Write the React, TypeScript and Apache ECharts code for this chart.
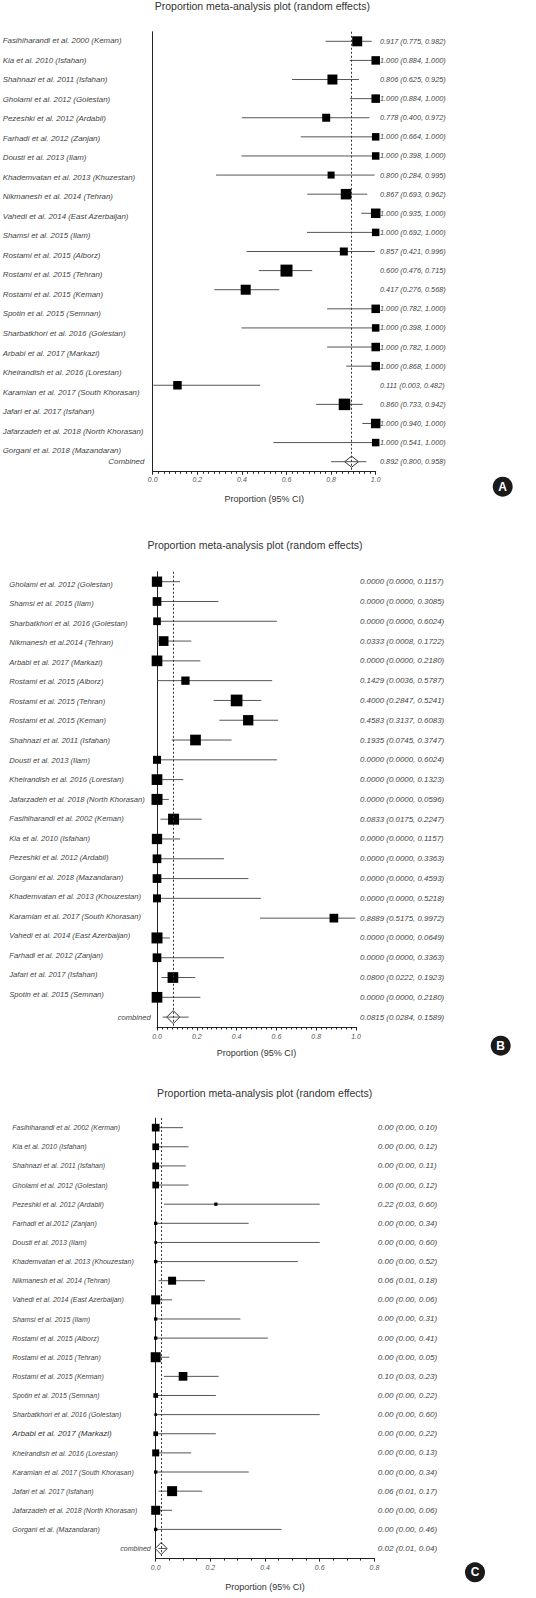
import React, { useEffect, useRef } from "react";
import * as echarts from "echarts";

// ---------------- Panel A data ----------------
const namesA = [
  "Fasihiharandi et al. 2000 (Keman)",
  "Kia et al. 2010 (Isfahan)",
  "Shahnazi et al. 2011 (Isfahan)",
  "Gholami et al. 2012 (Golestan)",
  "Pezeshki et al. 2012 (Ardabil)",
  "Farhadi et al. 2012 (Zanjan)",
  "Dousti et al. 2013 (Ilam)",
  "Khademvatan et al. 2013 (Khuzestan)",
  "Nikmanesh et al. 2014 (Tehran)",
  "Vahedi et al. 2014 (East Azerbaijan)",
  "Shamsi et al. 2015 (Ilam)",
  "Rostami et al. 2015 (Alborz)",
  "Rostami et al. 2015 (Tehran)",
  "Rostami et al. 2015 (Keman)",
  "Spotin et al. 2015 (Semnan)",
  "Sharbatkhori et al. 2016 (Golestan)",
  "Arbabi et al. 2017 (Markazi)",
  "Kheirandish et al. 2016 (Lorestan)",
  "Karamian et al. 2017 (South Khorasan)",
  "Jafari et al. 2017 (Isfahan)",
  "Jafarzadeh et al. 2018 (North Khorasan)",
  "Gorgani et al. 2018 (Mazandaran)",
];
const estA = [0.917, 1.0, 0.806, 1.0, 0.778, 1.0, 1.0, 0.8, 0.867, 1.0, 1.0, 0.857, 0.6, 0.417, 1.0, 1.0, 1.0, 1.0, 0.111, 0.86, 1.0, 1.0];
const lowA = [0.775, 0.884, 0.625, 0.884, 0.4, 0.664, 0.398, 0.284, 0.693, 0.935, 0.692, 0.421, 0.476, 0.276, 0.782, 0.398, 0.782, 0.868, 0.003, 0.733, 0.94, 0.541];
const highA = [0.982, 1.0, 0.925, 1.0, 0.972, 1.0, 1.0, 0.995, 0.962, 1.0, 1.0, 0.996, 0.715, 0.568, 1.0, 1.0, 1.0, 1.0, 0.482, 0.942, 1.0, 1.0];
const weightA = [10, 8.5, 10, 8.5, 8, 7.5, 7.5, 7, 10.5, 9.5, 7.5, 8, 12, 10, 8.5, 7.5, 8.5, 8.5, 8.5, 11.5, 9.5, 7.5];
const pooledA = [0.892, 0.8, 0.958];

// ---------------- Panel B data ----------------
const namesB = [
  "Gholami et al. 2012 (Golestan)",
  "Shamsi et al. 2015 (Ilam)",
  "Sharbatkhori et al. 2016 (Golestan)",
  "Nikmanesh et al.2014 (Tehran)",
  "Arbabi et al. 2017 (Markazi)",
  "Rostami et al. 2015 (Alborz)",
  "Rostami et al. 2015 (Tehran)",
  "Rostami et al. 2015 (Keman)",
  "Shahnazi et al. 2011 (Isfahan)",
  "Dousti et al. 2013 (Ilam)",
  "Kheirandish et al. 2016 (Lorestan)",
  "Jafarzadeh et al. 2018 (North Khorasan)",
  "Fasihiharandi et al. 2002 (Keman)",
  "Kia et al. 2010 (Isfahan)",
  "Pezeshki et al. 2012 (Ardabil)",
  "Gorgani et al. 2018 (Mazandaran)",
  "Khademvatan et al. 2013 (Khouzestan)",
  "Karamian et al. 2017 (South Khorasan)",
  "Vahedi et al. 2014 (East Azerbaijan)",
  "Farhadi et al. 2012 (Zanjan)",
  "Jafari et al. 2017 (Isfahan)",
  "Spotin et al. 2015 (Semnan)",
];
const estB = [0, 0, 0, 0.0333, 0, 0.1429, 0.4, 0.4583, 0.1935, 0, 0, 0, 0.0833, 0, 0, 0, 0, 0.8889, 0, 0, 0.08, 0];
const lowB = [0, 0, 0, 0.0008, 0, 0.0036, 0.2847, 0.3137, 0.0745, 0, 0, 0, 0.0175, 0, 0, 0, 0, 0.5175, 0, 0, 0.0222, 0];
const highB = [0.1157, 0.3085, 0.6024, 0.1722, 0.218, 0.5787, 0.5241, 0.6083, 0.3747, 0.6024, 0.1323, 0.0596, 0.2247, 0.1157, 0.3363, 0.4593, 0.5218, 0.9972, 0.0649, 0.3363, 0.1923, 0.218];
const weightB = [10.3, 8.7, 7.7, 9.7, 10.7, 8.3, 11.7, 10.3, 10.7, 8, 10.7, 11, 11, 10.3, 8.7, 8.7, 8, 8.7, 11, 8.7, 10.7, 10.7];
const pooledB = [0.0815, 0.0284, 0.1589];

// ---------------- Panel C data ----------------
const namesC = [
  "Fasihiharandi et al. 2002 (Kerman)",
  "Kia et al. 2010 (Isfahan)",
  "Shahnazi et al. 2011 (Isfahan)",
  "Gholami et al. 2012 (Golestan)",
  "Pezeshki et al. 2012 (Ardabil)",
  "Farhadi et al.2012 (Zanjan)",
  "Dousti et al. 2013 (Ilam)",
  "Khademvatan et al. 2013 (Khouzestan)",
  "Nikmanesh et al. 2014 (Tehran)",
  "Vahedi et al. 2014 (East Azerbaijan)",
  "Shamsi et al. 2015 (Ilam)",
  "Rostami et al. 2015 (Alborz)",
  "Rostami et al. 2015 (Tehran)",
  "Rostami et al. 2015 (Kerman)",
  "Spotin et al. 2015 (Semnan)",
  "Sharbatkhori et al. 2016 (Golestan)",
  "Arbabi et al. 2017 (Markazi)",
  "Kheirandish et al. 2016 (Lorestan)",
  "Karamian et al. 2017 (South Khorasan)",
  "Jafari et al. 2017 (Isfahan)",
  "Jafarzadeh et al. 2018 (North Khorasan)",
  "Gorgani et al. (Mazandaran)",
];
const estC = [0, 0, 0, 0, 0.22, 0, 0, 0, 0.06, 0, 0, 0, 0, 0.1, 0, 0, 0, 0, 0, 0.06, 0, 0];
const lowC = [0, 0, 0, 0, 0.03, 0, 0, 0, 0.01, 0, 0, 0, 0, 0.03, 0, 0, 0, 0, 0, 0.01, 0, 0];
const highC = [0.1, 0.12, 0.11, 0.12, 0.6, 0.34, 0.6, 0.52, 0.18, 0.06, 0.31, 0.41, 0.05, 0.23, 0.22, 0.6, 0.22, 0.13, 0.34, 0.17, 0.06, 0.46];
const weightC = [7.7, 6.7, 6.7, 6.7, 3.3, 3.3, 2.7, 3.3, 8, 9, 3.3, 3.3, 10, 8.7, 4.7, 2.7, 4.7, 7, 3.3, 10, 9, 3.3];
const pooledC = [0.02, 0.01, 0.04];

const TITLE = "Proportion meta-analysis plot (random effects)";
const AXIS_NAME = "Proportion (95% CI)";
const FONT = '"Liberation Sans", Arial, sans-serif';

type Panel = {
  names: string[];
  est: number[];
  low: number[];
  high: number[];
  weight: number[];
  pooled: number[];
  pooledName: string;
  digits: number;
  max: number;
  minorSplit: number;
  left: number;
  width: number;
  top: number;
  height: number;
  labelTop: number;
  labelHeight: number;
  labelX: number;
  labelFont: number;
  valueFont: number;
  valueGap: number;
  combinedGap: number;
  labelMargin: number;
  nameGap: number;
  titleX: number;
  titleY: number;
  diamond: number[];
  badge: string;
  badgeX: number;
  badgeY: number;
  special?: Record<number, number>;
};

const panels: Panel[] = [
  {
    names: namesA, est: estA, low: lowA, high: highA, weight: weightA, pooled: pooledA,
    pooledName: "Combined", digits: 3, max: 1, minorSplit: 8,
    left: 152.7, width: 223, top: 31.75, height: 439.5,
    labelTop: 30.9, labelHeight: 429.5, labelX: 2.7, labelFont: 7.9,
    valueFont: 7.3, valueGap: 4.3, combinedGap: 8.4, labelMargin: 5, nameGap: 23.5,
    titleX: 262.3, titleY: 7.3, diamond: [14, 11], badge: "A", badgeX: 502.7, badgeY: 486.7,
  },
  {
    names: namesB, est: estB, low: lowB, high: highB, weight: weightB, pooled: pooledB,
    pooledName: "combined", digits: 4, max: 1, minorSplit: 8,
    left: 157, width: 199, top: 571.8, height: 455.2,
    labelTop: 574.5, labelHeight: 429.7, labelX: 9.3, labelFont: 7.6,
    valueFont: 7.9, valueGap: 4, combinedGap: 6.3, labelMargin: 6, nameGap: 21.3,
    titleX: 255, titleY: 545.7, diamond: [13, 13], badge: "B", badgeX: 500.7, badgeY: 1045.7,
  },
  {
    names: namesC, est: estC, low: lowC, high: highC, weight: weightC, pooled: pooledC,
    pooledName: "combined", digits: 2, max: 0.8, minorSplit: 4,
    left: 155.7, width: 218.7, top: 1118.1, height: 440,
    labelTop: 1118.1, labelHeight: 421.1, labelX: 12.3, labelFont: 7,
    valueFont: 8.1, valueGap: 3.4, combinedGap: 5, labelMargin: 5.6, nameGap: 23.9,
    titleX: 264.7, titleY: 1094.3, diamond: [12, 12], badge: "C", badgeX: 475, badgeY: 1572.3,
    special: { 16: 8.1 },
  },
];

const fmt = (v: number, d: number) => v.toFixed(d);

function makeRender(dw: number, dh: number) {
  return (params: any, api: any) => {
    const row = api.value(0);
    const est = api.value(1);
    const lo = api.value(2);
    const hi = api.value(3);
    const w = api.value(4);
    const pooled = api.value(5);
    const c = api.coord([est, row]);
    const l = api.coord([lo, row]);
    const h = api.coord([hi, row]);
    const y = c[1];
    const whisker = {
      type: "line",
      shape: { x1: l[0], y1: y, x2: h[0], y2: y },
      style: { stroke: "#555", lineWidth: 1 },
    };
    if (pooled) {
      const diamond = {
        type: "polygon",
        shape: {
          points: [
            [c[0] - dw / 2, y],
            [c[0], y - dh / 2],
            [c[0] + dw / 2, y],
            [c[0], y + dh / 2],
          ],
        },
        style: { fill: "#fff", stroke: "#333", lineWidth: 1 },
      };
      return { type: "group", children: [diamond, whisker] };
    }
    const s = w;
    return {
      type: "group",
      children: [
        whisker,
        {
          type: "rect",
          shape: { x: c[0] - s / 2, y: y - s / 2, width: s, height: s },
          style: { fill: "#000" },
        },
      ],
    };
  };
}

function buildOption() {
  const grid: any[] = [];
  const xAxis: any[] = [];
  const yAxis: any[] = [];
  const series: any[] = [];
  const title: any[] = [];
  const graphic: any[] = [];

  panels.forEach((p) => {
    const n = p.names.length;
    const mainGrid = grid.length;
    grid.push({ left: p.left, top: p.top, width: p.width, height: p.height, containLabel: false, outerBoundsMode: "none" });
    const labelGrid = grid.length;
    grid.push({ left: p.left, top: p.labelTop, width: p.width, height: p.labelHeight, containLabel: false, outerBoundsMode: "none" });

    const mainX = xAxis.length;
    xAxis.push({
      gridIndex: mainGrid,
      type: "value",
      min: 0,
      max: p.max,
      interval: 0.2,
      name: AXIS_NAME,
      nameLocation: "middle",
      nameGap: p.nameGap,
      nameTextStyle: { fontFamily: FONT, fontSize: 9, color: "#333" },
      axisLine: { show: true, onZero: false, lineStyle: { color: "#222", width: 1 } },
      axisTick: { show: true, length: 3.5, lineStyle: { color: "#222", width: 1 } },
      minorTick: { show: true, splitNumber: p.minorSplit, length: 2.5, lineStyle: { color: "#222", width: 1 } },
      splitLine: { show: false },
      minorSplitLine: { show: false },
      axisLabel: {
        formatter: (v: number) => v.toFixed(1),
        fontFamily: FONT,
        fontStyle: "italic",
        fontSize: 7,
        color: "#555",
        margin: p.labelMargin,
      },
    });
    xAxis.push({ gridIndex: labelGrid, type: "value", min: 0, max: 1, show: false });

    const cats = [...p.names, p.pooledName];
    const values = [
      ...p.names.map((_, i) => `${fmt(p.est[i], p.digits)} (${fmt(p.low[i], p.digits)}, ${fmt(p.high[i], p.digits)})`),
      `${fmt(p.pooled[0], p.digits)} (${fmt(p.pooled[1], p.digits)}, ${fmt(p.pooled[2], p.digits)})`,
    ];

    const mainY = yAxis.length;
    yAxis.push({
      gridIndex: mainGrid,
      type: "category",
      inverse: true,
      data: cats,
      axisLine: { show: true, onZero: false, lineStyle: { color: "#222", width: 1 } },
      axisTick: { show: false },
      splitLine: { show: false },
      axisLabel: {
        interval: 0,
        formatter: (v: string, idx: number) => (idx === n ? v : ""),
        align: "right",
        margin: p.combinedGap,
        fontFamily: FONT,
        fontStyle: "italic",
        fontSize: p.labelFont,
        color: "#444",
      },
    });
    yAxis.push({
      gridIndex: mainGrid,
      type: "category",
      inverse: true,
      position: "right",
      data: values,
      axisLine: { show: false },
      axisTick: { show: false },
      splitLine: { show: false },
      axisLabel: {
        interval: 0,
        align: "left",
        margin: p.valueGap,
        fontFamily: FONT,
        fontStyle: "italic",
        fontSize: p.valueFont,
        color: "#444",
      },
    });
    const labelStyle = {
      align: "left",
      verticalAlign: "middle",
      fontFamily: FONT,
      fontStyle: "italic",
      fontSize: p.labelFont,
      color: "#444",
    };
    yAxis.push({
      gridIndex: labelGrid,
      type: "category",
      inverse: true,
      data: p.names.map((nm, i) =>
        p.special && p.special[i]
          ? { value: nm, textStyle: { ...labelStyle, fontSize: p.special[i], color: "#333" } }
          : nm
      ),
      axisLine: { show: false },
      axisTick: { show: false },
      splitLine: { show: false },
      axisLabel: {
        interval: 0,
        margin: p.left - p.labelX,
        ...labelStyle,
      },
    });

    const data = p.names.map((_, i) => [i, p.est[i], p.low[i], p.high[i], p.weight[i], 0]);
    data.push([n, p.pooled[0], p.pooled[1], p.pooled[2], 0, 1]);

    series.push({
      type: "custom",
      xAxisIndex: mainX,
      yAxisIndex: mainY,
      clip: false,
      encode: { x: [1, 2, 3], y: 0 },
      renderItem: makeRender(p.diamond[0], p.diamond[1]),
      data,
      markLine: {
        silent: true,
        symbol: ["none", "none"],
        label: { show: false },
        lineStyle: { type: [2, 2], color: "#333", width: 1 },
        data: [{ xAxis: p.pooled[0] }],
      },
    });

    title.push({
      text: TITLE,
      left: p.titleX,
      top: p.titleY - 6.5,
      textAlign: "center",
      padding: 0,
      textStyle: { fontFamily: FONT, fontSize: 10.5, fontWeight: "normal", color: "#333" },
    });

    graphic.push({
      type: "circle",
      shape: { cx: p.badgeX, cy: p.badgeY, r: 10 },
      style: { fill: "#1a1a1a" },
    });
    graphic.push({
      type: "text",
      x: p.badgeX,
      y: p.badgeY,
      style: {
        text: p.badge,
        fill: "#fff",
        font: `bold 12px ${FONT}`,
        align: "center",
        verticalAlign: "middle",
        textAlign: "center",
        textVerticalAlign: "middle",
      },
    });
  });

  return {
    animation: false,
    backgroundColor: "#fff",
    title,
    grid,
    xAxis,
    yAxis,
    series,
    graphic,
  };
}

export default function App() {
  const ref = useRef<HTMLDivElement>(null);
  useEffect(() => {
    if (!ref.current) return;
    const chart = echarts.init(ref.current, undefined, { renderer: "svg" });
    chart.setOption(buildOption() as any);
    return () => chart.dispose();
  }, []);
  return (
    <div
      ref={ref}
      style={{ position: "absolute", left: 0, top: 0, width: 536, height: 1598, background: "#fff" }}
    />
  );
}
